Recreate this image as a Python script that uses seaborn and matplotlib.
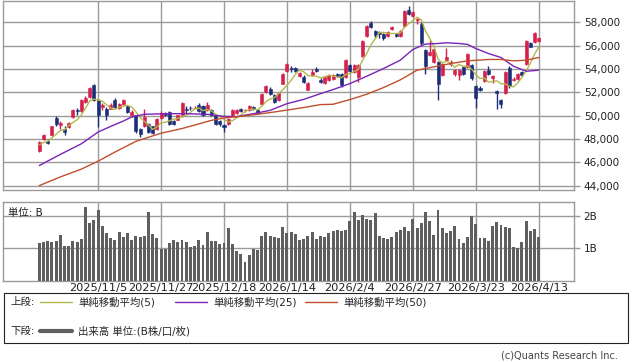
import matplotlib
matplotlib.use("Agg")
import matplotlib.pyplot as plt
import seaborn as sns
import pandas as pd
from matplotlib.lines import Line2D

# Японская дневная свечная диаграмма + объём
tick_idx = [14, 29, 44, 59, 74, 89, 104, 119]
tick_labels = ["2025/11/5", "2025/11/27", "2025/12/18", "2026/1/14",
               "2026/2/4", "2026/2/27", "2026/3/23", "2026/4/13"]

opens = [46960, 48020, 47820, 48310, 49830, 49170, 48880, 49030, 49890, 50460,
         50370, 51180, 51610, 52610, 51320, 50750, 50600, 50600, 51380, 50690,
         50980, 50800, 50030, 50030, 48880, 49080, 49260, 49080, 48880, 49800,
         50170, 50320, 49540, 49660, 49940, 50600, 50690, 50650, 50890, 50800,
         50460, 50460, 50030, 49540, 49170, 49310, 50030, 50230, 50600, 50450,
         50460, 50750, 50460, 51030, 52040, 52320, 51750, 51320, 52750, 53840,
         54130, 54130, 53380, 53330, 52240, 53470, 54040, 53100, 52810, 53040,
         53180, 53560, 53560, 53330, 54330, 53760, 53330, 55100, 56820, 57970,
         57280, 57140, 57000, 56820, 57400, 57000, 56820, 57680, 59060, 58550,
         58200, 57860, 55620, 55190, 54620, 54620, 53470, 54800, 54470, 53560,
         53470, 54190, 54190, 54330, 52520, 52410, 52980, 53900, 53270, 52120,
         51380, 51950, 54130, 53040, 53180, 53760, 54420, 56250, 56340, 56420]
closes = [47740, 48310, 47650, 49080, 49260, 49370, 48600, 49370, 50520, 50400,
          51380, 51550, 52410, 51380, 50030, 50890, 50030, 50950, 50750, 50980,
          51380, 50320, 50320, 48680, 48450, 49890, 48600, 48540, 49740, 50230,
          50030, 49260, 49260, 50030, 51090, 50460, 50630, 50700, 50400, 50030,
          50890, 50030, 49310, 49260, 49030, 49740, 50520, 50520, 50400, 50470,
          50800, 50600, 50230, 51890, 52520, 51890, 51180, 51950, 53560, 54470,
          53960, 53840, 53670, 52900, 52810, 53760, 53840, 52900, 53330, 53470,
          53470, 53380, 52610, 54760, 53840, 54330, 54330, 56420, 57680, 57570,
          56910, 56970, 56620, 57200, 57570, 56820, 57280, 59000, 58720, 58920,
          58300, 56190, 54240, 55480, 55680, 52700, 54470, 55050, 54620, 53900,
          53900, 53610, 55280, 53270, 51550, 52240, 53840, 53560, 53380, 51950,
          50980, 53760, 52520, 53180, 53560, 53470, 56420, 55910, 57050, 56620]
highs = [47850, 48450, 48020, 49150, 49950, 49540, 49080, 49450, 50600, 50690,
         51450, 51660, 52500, 52750, 51400, 51090, 50750, 51050, 51550, 51090,
         51450, 50860, 50460, 50100, 48950, 50600, 49350, 49150, 49830, 50400,
         50320, 50400, 49600, 50100, 51200, 50800, 50800, 50800, 51090, 50900,
         51180, 50550, 50100, 49600, 49250, 49830, 50600, 50600, 50700, 50550,
         50950, 50850, 50550, 51950, 52600, 52450, 51850, 52050, 53650, 54550,
         54250, 54200, 53750, 53450, 52900, 53960, 54190, 53200, 53400, 53550,
         53550, 53620, 53650, 54850, 54420, 54420, 54420, 56500, 57800, 58100,
         57350, 57280, 57100, 57280, 57650, 57100, 57350, 59100, 59400, 59000,
         58350, 58000, 55700, 56480, 55750, 54700, 54550, 55760, 54760, 54000,
         54000, 54300, 55350, 54420, 52600, 52520, 53950, 54240, 53480, 52200,
         51450, 53850, 54300, 53300, 53650, 53850, 56500, 56350, 57150, 56750]
lows = [46880, 47950, 47540, 48250, 49150, 48880, 48310, 48950, 49830, 50030,
        50300, 51100, 51550, 51300, 49030, 50520, 49600, 50550, 50700, 50600,
        50900, 50250, 49890, 48510, 48170, 49000, 48500, 48400, 48800, 49740,
        49940, 49170, 49170, 49600, 49890, 50230, 50500, 50550, 50350, 49950,
        50400, 49950, 49200, 49150, 48600, 49200, 49950, 50150, 50300, 50350,
        50400, 50500, 50150, 50950, 51950, 51800, 51100, 51250, 52700, 53780,
        53760, 53780, 53300, 52800, 52200, 53400, 53780, 52800, 52750, 52980,
        53100, 53300, 52500, 53250, 53780, 53700, 52900, 55000, 56750, 57500,
        56700, 56700, 56480, 56750, 57350, 56750, 56750, 57600, 58650, 58450,
        57900, 56100, 53610, 55100, 54550, 51380, 53400, 54700, 54300, 53400,
        53100, 53500, 54100, 53100, 50690, 52120, 52900, 53450, 52810, 50600,
        50690, 51850, 52400, 52950, 53100, 53400, 54350, 55850, 56250, 56300]

# объём, млрд (B)
volume = [1.18, 1.20, 1.23, 1.20, 1.23, 1.41, 1.07, 1.07, 1.23, 1.20,
          1.29, 2.29, 1.78, 1.88, 2.20, 1.70, 1.48, 1.32, 1.26, 1.51,
          1.35, 1.48, 1.26, 1.38, 1.36, 1.38, 2.13, 1.45, 1.32, 0.98,
          0.99, 1.17, 1.26, 1.20, 1.26, 1.20, 1.04, 1.07, 1.26, 1.10,
          1.51, 1.23, 1.23, 1.13, 1.17, 1.63, 1.13, 0.93, 0.83, 0.57,
          0.79, 0.97, 0.95, 1.38, 1.51, 1.38, 1.35, 1.32, 1.67, 1.48,
          1.51, 1.45, 1.26, 1.29, 1.38, 1.51, 1.29, 1.38, 1.35, 1.48,
          1.54, 1.57, 1.55, 1.57, 1.85, 2.13, 1.88, 2.04, 1.92, 1.88,
          2.10, 1.38, 1.32, 1.29, 1.35, 1.51, 1.57, 1.68, 1.54, 1.92,
          1.63, 1.79, 2.13, 1.85, 1.42, 2.20, 1.63, 1.48, 1.54, 1.71,
          1.29, 1.17, 1.35, 2.01, 1.76, 1.32, 1.32, 1.23, 1.70, 1.82,
          1.73, 1.67, 1.63, 1.04, 1.01, 1.20, 1.85, 1.54, 1.62, 1.35]

ma5 = [47500, 47700, 47800, 48100, 48410, 48730, 48790, 49140, 49420, 49650,
       50050, 50640, 51250, 51420, 51350, 51250, 50950, 50660, 50530, 50720,
       50820, 50880, 50750, 50340, 49830, 49530, 49190, 48830, 49040, 49400,
       49430, 49560, 49700, 49760, 49930, 50020, 50290, 50580, 50660, 50440,
       50530, 50410, 50130, 49900, 49700, 49470, 49570, 49810, 50040, 50330,
       50540, 50560, 50500, 50800, 51210, 51430, 51540, 51890, 52220, 52610,
       53020, 53560, 53900, 53770, 53440, 53400, 53400, 53240, 53330, 53460,
       53400, 53310, 53250, 53540, 53610, 53780, 53970, 54740, 55320, 56070,
       56580, 57110, 57150, 57050, 57050, 57040, 57100, 57570, 57880, 58150,
       58440, 58230, 57270, 56630, 55980, 54860, 54510, 54680, 54500, 54150,
       54390, 54220, 54260, 53990, 53520, 53190, 53240, 52890, 52910, 52990,
       52740, 52730, 52520, 52480, 52800, 53300, 53830, 54510, 55280, 55890]

ma25_idx = [0, 5, 10, 14, 17, 20, 22, 25, 30, 35, 40, 44, 47, 51, 55, 59, 63,
            67, 70, 74, 78, 82, 86, 89, 92, 95, 97, 100, 102, 104, 107, 110,
            113, 116, 119]
ma25 = [45730, 46680, 47590, 48600, 49080, 49540, 49890, 50120, 50170, 50170,
        50120, 49940, 49920, 50170, 50460, 51030, 51400, 51890, 52240, 52750,
        53380, 54040, 54760, 55680, 56140, 56190, 56250, 56190, 56110, 55760,
        55330, 54990, 54240, 53810, 53900]

ma50_idx = [0, 5, 10, 14, 18, 23, 29, 34, 38, 41, 44, 48, 52, 56, 59, 63, 67,
            70, 74, 78, 82, 86, 90, 94, 98, 102, 107, 110, 113, 116, 119]
ma50 = [44010, 44750, 45420, 46100, 46880, 47800, 48500, 48900, 49300, 49600,
        49800, 49950, 50120, 50320, 50480, 50700, 50950, 50980, 51380, 51840,
        52410, 53070, 53900, 54190, 54470, 54700, 54820, 54820, 54700, 54760,
        54990]

UP = "#d61f4b"
DOWN = "#1b2d78"
GRID = "#9a9a9a"
C_MA5 = "#b4b84a"
C_MA25 = "#7b22b8"
C_MA50 = "#c0502d"

sns.set_style("white")
plt.rcParams["font.family"] = ["DejaVu Sans", "Noto Sans CJK JP"]

fig = plt.figure(figsize=(6.38, 3.62), dpi=100)
ax = fig.add_axes([0.0052, 0.4751, 0.8945, 0.5221])
axv = fig.add_axes([0.0052, 0.2251, 0.8945, 0.2168])

df = pd.DataFrame({"i": range(len(closes)), "open": opens, "close": closes,
                   "high": highs, "low": lows, "vol": volume, "ma5": ma5})

# свечи
for _, r in df.iterrows():
    col = UP if r["close"] >= r["open"] else DOWN
    ax.vlines(r["i"], r["low"], r["high"], color=col, lw=1, zorder=3)
    lo = min(r["open"], r["close"])
    h = max(abs(r["close"] - r["open"]), 40)
    ax.bar(r["i"], h, bottom=lo, width=0.72, color=col, edgecolor=col,
           lw=0.4, zorder=4)

sns.lineplot(data=df, x="i", y="ma5", ax=ax, color=C_MA5, lw=1, zorder=5)
sns.lineplot(x=ma25_idx, y=ma25, ax=ax, color=C_MA25, lw=1, zorder=5)
sns.lineplot(x=ma50_idx, y=ma50, ax=ax, color=C_MA50, lw=1, zorder=5)

sns.barplot(data=df, x="i", y="vol", ax=axv, native_scale=True,
            color="#5f5f5f", width=0.7, saturation=1, linewidth=0,
            edgecolor="none", zorder=3)

xl = (-8.58, 127.4)
for a in (ax, axv):
    a.set_xlim(*xl)
    a.set_xlabel("")
    a.set_ylabel("")
    for s in a.spines.values():
        s.set_color(GRID)
        s.set_linewidth(1)
    a.yaxis.tick_right()
    a.tick_params(axis="y", which="both", right=True, length=4, width=1,
                  color=GRID, labelsize=7.5, pad=3, labelcolor="#222222")
    a.set_xticks(tick_idx)
    a.grid(True, color=GRID, lw=1)
    a.set_axisbelow(True)

ax.set_ylim(43630, 59830)
ax.set_yticks(range(44000, 58001, 2000))
ax.set_yticklabels([f"{v:,}" for v in range(44000, 58001, 2000)])
ax.tick_params(axis="x", length=0, labelbottom=False)

axv.set_ylim(0, 2.45)
axv.set_yticks([1, 2])
axv.set_yticklabels(["1B", "2B"])
axv.set_xticklabels(tick_labels)
axv.tick_params(axis="x", length=0, labelsize=8.2, pad=2, labelcolor="#222222")
axv.text(0.008, 0.93, "単位: B", transform=axv.transAxes, fontsize=7.5,
         va="top", ha="left", color="#222222")

# легенда внизу
box = plt.Rectangle((3.5 / 638, 1 - 343 / 362), 624 / 638, 50 / 362,
                    transform=fig.transFigure, fill=False, ec="#222222", lw=0.8)
fig.add_artist(box)
fs = 7.5
fig.text(10 / 638, 1 - 302 / 362, "上段:", fontsize=fs, va="center")
fig.text(10 / 638, 1 - 331 / 362, "下段:", fontsize=fs, va="center")
items = [(40, C_MA5, "単純移動平均(5)"), (175, C_MA25, "単純移動平均(25)"),
         (305, C_MA50, "単純移動平均(50)")]
for x0, c, t in items:
    fig.add_artist(Line2D([x0 / 638, (x0 + 32) / 638], [1 - 302 / 362] * 2,
                          color=c, lw=1, transform=fig.transFigure))
    fig.text((x0 + 38) / 638, 1 - 302 / 362, t, fontsize=fs, va="center")
fig.add_artist(Line2D([40 / 638, 72 / 638], [1 - 331 / 362] * 2,
                      color="#5f5f5f", lw=3, transform=fig.transFigure))
fig.text(78 / 638, 1 - 331 / 362, "出来高 単位:(B株/口/枚)", fontsize=fs,
         va="center")
fig.text(618 / 638, 1 - 355 / 362, "(c)Quants Research Inc.", fontsize=7,
         ha="right", va="center", color="#444444")

fig.savefig("out.png", dpi=100)
